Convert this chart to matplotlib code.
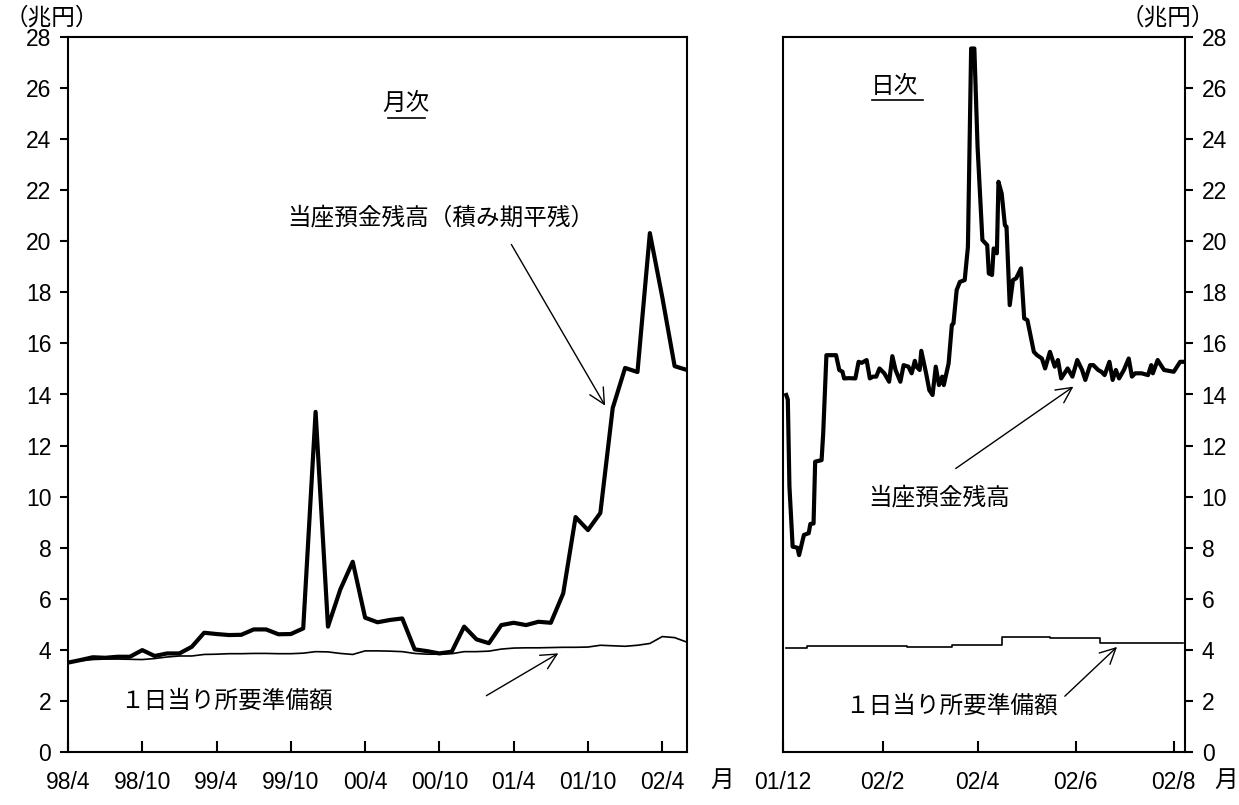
import numpy as np
import pandas as pd
import matplotlib
matplotlib.use("Agg")
import matplotlib.pyplot as plt
import matplotlib.dates as mdates

plt.rcParams['font.family'] = ['Liberation Sans', 'Noto Sans CJK JP', 'DejaVu Sans']

#%% データ
# 月次：98/4 ～ 02/6
cur_month = [3.50, 3.60, 3.71, 3.69, 3.73, 3.73, 3.99, 3.76, 3.86, 3.86,
             4.12, 4.67, 4.62, 4.58, 4.59, 4.80, 4.80, 4.61, 4.62, 4.84,
             13.32, 4.91, 6.37, 7.45, 5.26, 5.08, 5.17, 5.23, 4.02, 3.95,
             3.86, 3.93, 4.91, 4.41, 4.26, 4.97, 5.06, 4.97, 5.10, 5.06,
             6.21, 9.20, 8.69, 9.36, 13.47, 15.04, 14.88, 20.32, 17.82, 15.11,
             14.96]
req_month = [3.50, 3.57, 3.62, 3.64, 3.64, 3.63, 3.62, 3.66, 3.72, 3.76,
             3.76, 3.82, 3.83, 3.85, 3.85, 3.86, 3.86, 3.85, 3.85, 3.87,
             3.93, 3.92, 3.86, 3.82, 3.96, 3.96, 3.95, 3.93, 3.86, 3.83,
             3.83, 3.85, 3.93, 3.93, 3.95, 4.03, 4.07, 4.08, 4.08, 4.09,
             4.10, 4.10, 4.11, 4.18, 4.16, 4.14, 4.18, 4.25, 4.52, 4.48,
             4.30]
month_ticks = ['98/4', '98/10', '99/4', '99/10', '00/4', '00/10', '01/4', '01/10', '02/4']

# 日次：01/12 ～ 02/8
cur_day_date = ['2001-12-03', '2001-12-04', '2001-12-05', '2001-12-07', '2001-12-10',
                '2001-12-11', '2001-12-14', '2001-12-17', '2001-12-18', '2001-12-20',
                '2001-12-21', '2001-12-25', '2001-12-26', '2001-12-28', '2002-01-03',
                '2002-01-05', '2002-01-07', '2002-01-08', '2002-01-11', '2002-01-15',
                '2002-01-17', '2002-01-19', '2002-01-22', '2002-01-24', '2002-01-26',
                '2002-01-28', '2002-01-30', '2002-02-02', '2002-02-05', '2002-02-07',
                '2002-02-09', '2002-02-12', '2002-02-14', '2002-02-17', '2002-02-19',
                '2002-02-21', '2002-02-22', '2002-02-24', '2002-02-25', '2002-02-28',
                '2002-03-02', '2002-03-04', '2002-03-06', '2002-03-08', '2002-03-10',
                '2002-03-11', '2002-03-14', '2002-03-16', '2002-03-17', '2002-03-19',
                '2002-03-21', '2002-03-24', '2002-03-26', '2002-03-28', '2002-03-30',
                '2002-04-01', '2002-04-04', '2002-04-07', '2002-04-08', '2002-04-10',
                '2002-04-11', '2002-04-13', '2002-04-14', '2002-04-16', '2002-04-18',
                '2002-04-19', '2002-04-21', '2002-04-23', '2002-04-25', '2002-04-28',
                '2002-04-30', '2002-05-02', '2002-05-06', '2002-05-08', '2002-05-11',
                '2002-05-13', '2002-05-16', '2002-05-19', '2002-05-21', '2002-05-23',
                '2002-05-27', '2002-05-30', '2002-06-02', '2002-06-05', '2002-06-07',
                '2002-06-10', '2002-06-12', '2002-06-15', '2002-06-17', '2002-06-19',
                '2002-06-22', '2002-06-24', '2002-06-26', '2002-06-28', '2002-07-01',
                '2002-07-04', '2002-07-06', '2002-07-08', '2002-07-12', '2002-07-16',
                '2002-07-18', '2002-07-19', '2002-07-22', '2002-07-24', '2002-07-26',
                '2002-08-01', '2002-08-05', '2002-08-07']
cur_day = [13.98, 13.80, 10.40, 8.04, 8.00,
           7.71, 8.50, 8.57, 8.93, 8.95,
           11.37, 11.43, 12.48, 15.54, 15.54,
           14.96, 14.89, 14.63, 14.64, 14.63,
           15.28, 15.24, 15.35, 14.63, 14.70,
           14.70, 15.02, 14.83, 14.50, 15.50,
           14.96, 14.50, 15.15, 15.09, 14.83,
           15.32, 15.09, 14.96, 15.71, 14.83,
           14.17, 13.98, 15.09, 14.37, 14.70,
           14.37, 15.22, 16.72, 16.78, 18.09,
           18.41, 18.48, 19.78, 27.55, 27.55,
           23.70, 20.05, 19.85, 18.74, 18.68,
           19.72, 19.53, 22.33, 21.87, 20.63,
           20.57, 17.50, 18.48, 18.55, 18.94,
           16.98, 16.91, 15.67, 15.54, 15.41,
           15.02, 15.67, 15.09, 15.35, 14.63,
           15.02, 14.70, 15.35, 14.96, 14.57,
           15.15, 15.15, 14.96, 14.89, 14.76,
           15.28, 14.57, 14.96, 14.63, 14.96,
           15.41, 14.70, 14.83, 14.83, 14.76,
           15.15, 14.83, 15.35, 15.15, 14.96,
           14.89, 15.28, 15.28]
req_day_date = ['2001-12-03', '2001-12-16', '2002-01-16', '2002-02-16', '2002-03-16',
                '2002-04-16', '2002-05-16', '2002-06-16', '2002-08-07']
req_day = [4.08, 4.15, 4.15, 4.13, 4.19, 4.50, 4.47, 4.28, 4.28]
day_tick_date = ['2001-12-01', '2002-02-01', '2002-04-01', '2002-06-01', '2002-08-01']
day_ticks = ['01/12', '02/2', '02/4', '02/6', '02/8']

fs = 16.5  # 目盛
fj = 17    # 日本語注記

fig = plt.figure(figsize=(12.39, 8.05), dpi=100)
ax1 = fig.add_axes([68/1239, 53/805, 619/1239, 715/805])
ax2 = fig.add_axes([783/1239, 53/805, 402/1239, 715/805])

arrow = dict(arrowstyle='->', color='black', lw=1.0, mutation_scale=28)

#%% 月次
x = np.arange(len(cur_month))
ax1.plot(x, req_month, color='black', lw=1.2)
ax1.plot(x, cur_month, color='black', lw=3.0)
ax1.set_xlim(0, len(cur_month) - 1)
ax1.set_ylim(0, 28)
ax1.set_yticks(np.arange(0, 29, 2))
ax1.set_xticks(np.arange(0, len(month_ticks) * 6, 6))
ax1.set_xticklabels(month_ticks)
ax1.tick_params(axis='y', direction='out', length=6, width=1.5, labelsize=fs, pad=6)
ax1.tick_params(axis='x', direction='in', length=8, width=1.5, labelsize=fs, pad=14)

ax1.text(27.3, 25.4, '月次', fontsize=fj, ha='center', va='center')
ax1.plot([0.517, 0.577], [0.887, 0.887], color='black', lw=1.2, transform=ax1.transAxes)
ax1.text(30.1, 20.9, '当座預金残高（積み期平残）', fontsize=fj, ha='center', va='center')
ax1.annotate('', xy=(43.5, 13.47), xytext=(35.7, 19.97), arrowprops=arrow)
ax1.text(12.8, 2.0, '１日当り所要準備額', fontsize=fj, ha='center', va='center')
ax1.annotate('', xy=(39.8, 3.92), xytext=(33.6, 2.15), arrowprops=arrow)

#%% 日次
d_cur = pd.to_datetime(cur_day_date)
d_req = pd.to_datetime(req_day_date)
ax2.plot(d_req, req_day, color='black', lw=1.2, drawstyle='steps-post')
ax2.plot(d_cur, cur_day, color='black', lw=3.0)
ax2.set_xlim(pd.Timestamp('2001-12-01'), pd.Timestamp('2002-08-08'))
ax2.set_ylim(0, 28)
ax2.set_yticks(np.arange(0, 29, 2))
ax2.yaxis.tick_right()
ax2.set_xticks(pd.to_datetime(day_tick_date))
ax2.set_xticklabels(day_ticks)
ax2.tick_params(axis='y', direction='out', length=6, width=1.5, labelsize=fs, pad=6)
ax2.tick_params(axis='x', direction='in', length=8, width=1.5, labelsize=fs, pad=14)

def dn(s):
    return mdates.date2num(pd.Timestamp(s))

ax2.text(dn('2002-02-08'), 26.05, '日次', fontsize=fj, ha='center', va='center')
ax2.plot([0.221, 0.348], [0.912, 0.912], color='black', lw=1.2, transform=ax2.transAxes)
ax2.text(dn('2002-03-08'), 9.95, '当座預金残高', fontsize=fj, ha='center', va='center')
ax2.annotate('', xy=(dn('2002-06-01'), 14.37), xytext=(dn('2002-03-17'), 11.04), arrowprops=arrow)
ax2.text(dn('2002-03-16'), 1.8, '１日当り所要準備額', fontsize=fj, ha='center', va='center')
ax2.annotate('', xy=(dn('2002-06-28'), 4.19), xytext=(dn('2002-05-24'), 2.11), arrowprops=arrow)

for ax in (ax1, ax2):
    for sp in ax.spines.values():
        sp.set_linewidth(1.5)

fig.text(52/1239, 1 - 18/805, '（兆円）', fontsize=fj, ha='center', va='center')
fig.text(1168/1239, 1 - 18/805, '（兆円）', fontsize=fj, ha='center', va='center')
fig.text(722/1239, 1 - 781/805, '月', fontsize=fj, ha='center', va='center')
fig.text(1226/1239, 1 - 781/805, '月', fontsize=fj, ha='center', va='center')

fig.savefig('out.png', dpi=100)
